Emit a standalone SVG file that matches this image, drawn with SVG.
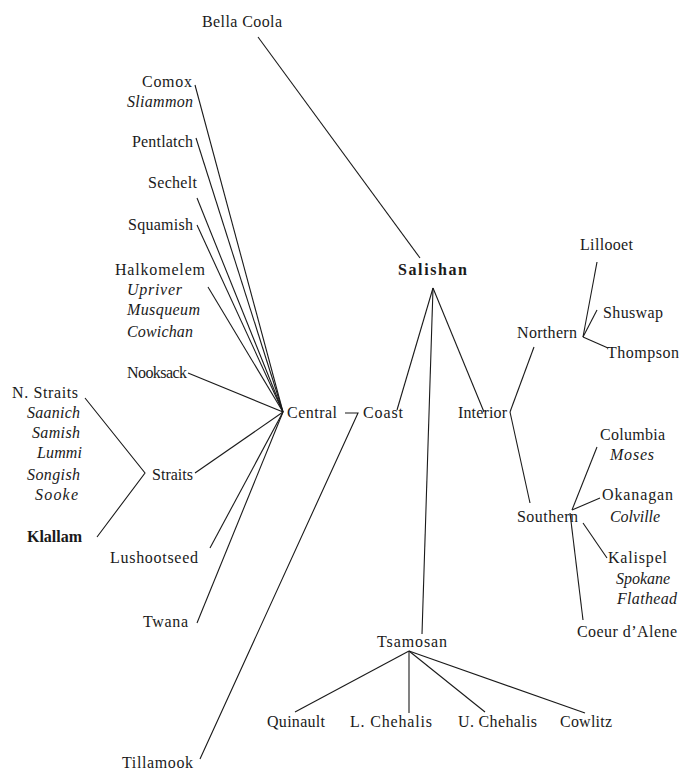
<svg xmlns="http://www.w3.org/2000/svg" width="679" height="771" viewBox="0 0 679 771">
<style>
text{font-family:"Liberation Serif","Times New Roman",serif;font-size:16px;fill:#1a1a1a}
.i{font-style:italic}
.b{font-weight:bold}
#connectors line,#connectors polyline{stroke:#1a1a1a;stroke-width:1.1;fill:none}
</style>
<rect width="679" height="771" fill="#ffffff"/>
<g id="connectors">
<line x1="258" y1="37" x2="420" y2="258"/>
<line x1="433" y1="288" x2="397" y2="410"/>
<line x1="433" y1="288" x2="422" y2="634"/>
<line x1="433" y1="288" x2="484" y2="412"/>
<line x1="510" y1="412" x2="534" y2="347"/>
<line x1="510" y1="412" x2="530" y2="503"/>
<line x1="583" y1="337" x2="597" y2="262"/>
<line x1="583" y1="337" x2="597" y2="310"/>
<line x1="583" y1="337" x2="608" y2="348"/>
<line x1="572" y1="510" x2="597" y2="447"/>
<line x1="572" y1="510" x2="600" y2="498"/>
<line x1="583" y1="523" x2="607" y2="558"/>
<line x1="570" y1="513" x2="583" y2="620"/>
<line x1="409" y1="651" x2="295" y2="712"/>
<line x1="409" y1="651" x2="409" y2="713"/>
<line x1="409" y1="651" x2="485" y2="712"/>
<line x1="409" y1="651" x2="585" y2="713"/>
<polyline points="345,413 358,413 200,759"/>
<line x1="283" y1="412" x2="195" y2="85"/>
<line x1="283" y1="412" x2="196" y2="138"/>
<line x1="283" y1="412" x2="197" y2="198"/>
<line x1="283" y1="412" x2="197" y2="225"/>
<line x1="283" y1="412" x2="208" y2="287"/>
<line x1="283" y1="412" x2="188" y2="373"/>
<line x1="283" y1="412" x2="195" y2="473"/>
<line x1="283" y1="412" x2="210" y2="548"/>
<line x1="283" y1="412" x2="197" y2="623"/>
<polyline points="85,398 145,473 97,537"/>
</g>
<g id="bella-coola"><text x="202" y="27" textLength="80">Bella Coola</text></g>
<g id="salishan"><text class="b" x="398" y="275" textLength="69">Salishan</text></g>
<g id="central"><text x="287" y="418" textLength="50">Central</text></g>
<g id="coast"><text x="363" y="418" textLength="40">Coast</text></g>
<g id="interior"><text x="458" y="418" textLength="49">Interior</text></g>
<g id="comox"><text x="142" y="87" textLength="50">Comox</text><text class="i" x="127" y="107" textLength="66">Sliammon</text></g>
<g id="pentlatch"><text x="132" y="147" textLength="61">Pentlatch</text></g>
<g id="sechelt"><text x="148" y="188" textLength="49">Sechelt</text></g>
<g id="squamish"><text x="128" y="230" textLength="65">Squamish</text></g>
<g id="halkomelem"><text x="115" y="275" textLength="90">Halkomelem</text><text class="i" x="127" y="295" textLength="55">Upriver</text><text class="i" x="127" y="315" textLength="73">Musqueum</text><text class="i" x="127" y="337" textLength="66">Cowichan</text></g>
<g id="nooksack"><text x="127" y="378" textLength="60">Nooksack</text></g>
<g id="n-straits"><text x="12" y="398" textLength="66">N. Straits</text><text class="i" x="27" y="418" textLength="53">Saanich</text><text class="i" x="32" y="438" textLength="48">Samish</text><text class="i" x="37" y="458" textLength="45">Lummi</text><text class="i" x="27" y="480" textLength="53">Songish</text><text class="i" x="35" y="500" textLength="43">Sooke</text></g>
<g id="klallam"><text class="b" x="27" y="542" textLength="55">Klallam</text></g>
<g id="straits"><text x="152" y="480" textLength="41">Straits</text></g>
<g id="lushootseed"><text x="110" y="563" textLength="88">Lushootseed</text></g>
<g id="twana"><text x="143" y="627" textLength="45">Twana</text></g>
<g id="tillamook"><text x="122" y="768" textLength="71">Tillamook</text></g>
<g id="northern"><text x="517" y="338" textLength="60">Northern</text></g>
<g id="lillooet"><text x="580" y="250" textLength="53">Lillooet</text></g>
<g id="shuswap"><text x="603" y="318" textLength="60">Shuswap</text></g>
<g id="thompson"><text x="607" y="358" textLength="72">Thompson</text></g>
<g id="southern"><text x="517" y="522" textLength="61">Southern</text></g>
<g id="columbia"><text x="600" y="440" textLength="65">Columbia</text><text class="i" x="610" y="460" textLength="44">Moses</text></g>
<g id="okanagan"><text x="602" y="500" textLength="71">Okanagan</text><text class="i" x="610" y="522" textLength="50">Colville</text></g>
<g id="kalispel"><text x="608" y="563" textLength="59">Kalispel</text><text class="i" x="616" y="584" textLength="54">Spokane</text><text class="i" x="617" y="604" textLength="60">Flathead</text></g>
<g id="coeur-d-alene"><text x="577" y="637" textLength="100">Coeur d’Alene</text></g>
<g id="tsamosan"><text x="377" y="647" textLength="70">Tsamosan</text></g>
<g id="quinault"><text x="267" y="727" textLength="58">Quinault</text></g>
<g id="l-chehalis"><text x="350" y="727" textLength="82">L. Chehalis</text></g>
<g id="u-chehalis"><text x="458" y="727" textLength="79">U. Chehalis</text></g>
<g id="cowlitz"><text x="560" y="727" textLength="52">Cowlitz</text></g>
</svg>
